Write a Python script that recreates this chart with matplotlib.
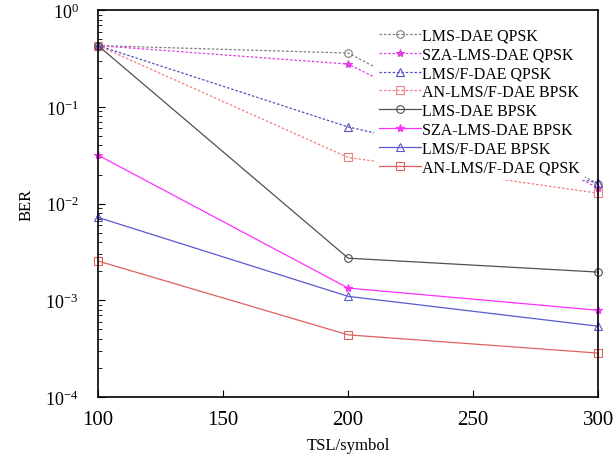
import matplotlib
matplotlib.use("Agg")
import matplotlib.pyplot as plt
from matplotlib.ticker import LogLocator, NullFormatter

plt.rcParams["font.family"] = ["Liberation Serif", "DejaVu Serif"]
plt.rcParams["mathtext.fontset"] = "stix"

tsl = [100, 200, 300]

# dashed (QPSK-style) curves
lms_dae_qpsk = [0.43, 0.36, 0.016]
sza_lms_dae_qpsk = [0.43, 0.277, 0.0145]
lmsf_dae_qpsk = [0.43, 0.062, 0.0163]
an_lmsf_dae_bpsk = [0.43, 0.030, 0.0128]

# solid curves
lms_dae_bpsk = [0.43, 0.00273, 0.00196]
sza_lms_dae_bpsk = [0.0317, 0.00134, 0.00079]
lmsf_dae_bpsk = [0.0072, 0.0011, 0.00054]
an_lmsf_dae_qpsk = [0.00255, 0.00044, 0.000285]

series = [
    ("LMS-DAE QPSK", lms_dae_qpsk, "#808080", "o", "--"),
    ("SZA-LMS-DAE QPSK", sza_lms_dae_qpsk, "#e040e0", "*", "--"),
    ("LMS/F-DAE QPSK", lmsf_dae_qpsk, "#5050c0", "^", "--"),
    ("AN-LMS/F-DAE BPSK", an_lmsf_dae_bpsk, "#f08080", "s", "--"),
    ("LMS-DAE BPSK", lms_dae_bpsk, "#505050", "o", "-"),
    ("SZA-LMS-DAE BPSK", sza_lms_dae_bpsk, "#ff30ff", "*", "-"),
    ("LMS/F-DAE BPSK", lmsf_dae_bpsk, "#5a5ad0", "^", "-"),
    ("AN-LMS/F-DAE QPSK", an_lmsf_dae_qpsk, "#e06060", "s", "-"),
]

fig = plt.figure(figsize=(6.13, 4.64), dpi=100)
ax = fig.add_axes([0.16, 0.142, 0.816, 0.834])

for label, vals, color, marker, ls in series:
    star = marker == "*"
    ax.plot(tsl, vals, linestyle=ls, color=color, lw=0.9,
            marker=marker, markersize=6 if star else 5.5,
            markerfacecolor=color if star else "none",
            markeredgecolor=color, markeredgewidth=0.8, label=label,
            dashes=(2.0, 1.5) if ls == "--" else (None, None), clip_on=False)

ax.set_yscale("log")
ax.set_xlim(100, 300)
ax.set_ylim(1e-4, 1)
ax.set_xticks([100, 150, 200, 250, 300])
ax.set_yticks([1e-4, 1e-3, 1e-2, 1e-1, 1])
ax.yaxis.set_minor_locator(LogLocator(base=10, subs=range(2, 10)))
ax.yaxis.set_minor_formatter(NullFormatter())
ax.tick_params(axis="x", direction="in", labelsize=15, length=5, pad=9)
ax.tick_params(axis="y", which="major", direction="in", labelsize=13, length=5, pad=14)
ax.tick_params(axis="y", which="minor", direction="in", length=3)
for sp in ax.spines.values():
    sp.set_linewidth(1.2)
ax.set_xlabel("TSL/symbol", fontsize=12, labelpad=6)
ax.set_ylabel("BER", fontsize=12, labelpad=8)

leg = ax.legend(loc="upper right", frameon=True, fontsize=11.5, handlelength=2.6,
                handletextpad=0.1, labelspacing=0.18, borderaxespad=0.1,
                borderpad=0.3, fancybox=False, bbox_to_anchor=(0.976, 0.972))
leg.get_frame().set_facecolor("white")
leg.get_frame().set_edgecolor("none")
leg.get_frame().set_alpha(1.0)

fig.savefig("out.png", dpi=100)
